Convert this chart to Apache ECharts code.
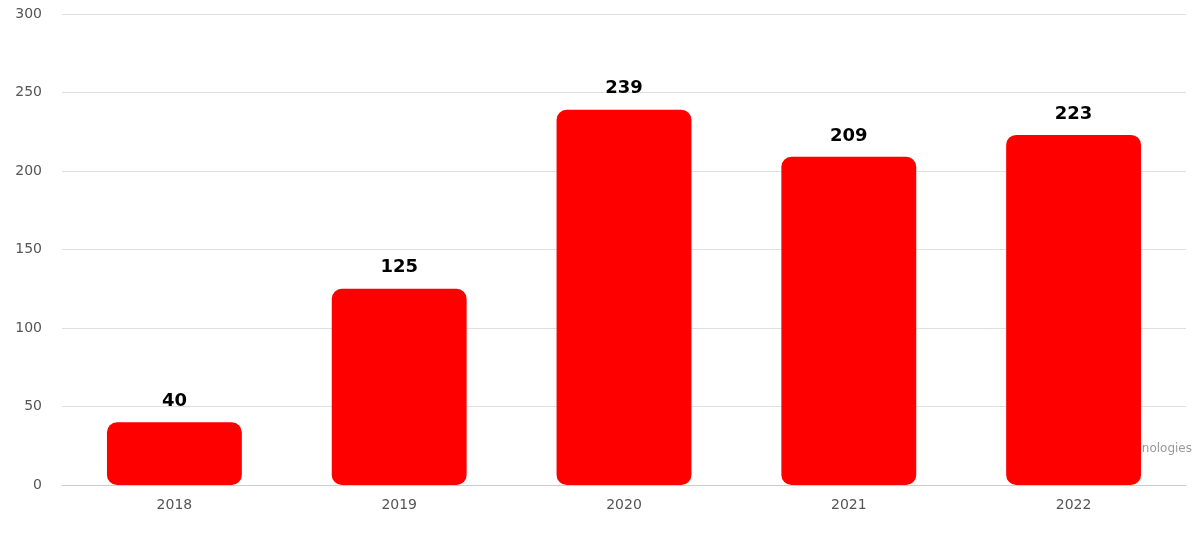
<!DOCTYPE html>
<html style="height: 100%">
  <head>
    <meta charset="utf-8" />
  </head>
  <body style="height: 100%; margin: 0; background: #fff">
    <div id="container" style="width: 1200px; height: 534px"></div>
    <script src="https://cdn.jsdelivr.net/npm/echarts@6/dist/echarts.min.js"></script>
    <script type="text/javascript">
      var years = ["2018", "2019", "2020", "2021", "2022"];
      var counts = [40, 125, 239, 209, 223];

      var myChart = echarts.init(document.getElementById("container"));
      var option = {
        textStyle: { fontFamily: "DejaVu Sans" },
        animation: false,
        grid: { left: 62, right: 14, top: 14, bottom: 49 },
        graphic: [
          {
            type: "text",
            right: 8,
            top: 443,
            style: {
              text: "© Positive Technologies",
              fill: "#999",
              font: "12px DejaVu Sans"
            }
          }
        ],
        xAxis: {
          type: "category",
          data: years,
          axisLine: { lineStyle: { color: "#ccc" } },
          axisTick: { show: false },
          axisLabel: { color: "#555", fontSize: 14, margin: 13 }
        },
        yAxis: {
          type: "value",
          min: 0,
          max: 300,
          interval: 50,
          axisLabel: { color: "#555", fontSize: 14, margin: 20 },
          splitLine: { lineStyle: { color: "#e0e0e0" } }
        },
        series: [
          {
            type: "bar",
            data: counts,
            barWidth: "60%",
            itemStyle: { color: "#ff0000", borderRadius: 10 },
            label: {
              show: true,
              position: "top",
              distance: 12,
              color: "#000",
              fontSize: 18,
              fontWeight: "bold"
            }
          }
        ]
      };
      myChart.setOption(option);
    </script>
  </body>
</html>
